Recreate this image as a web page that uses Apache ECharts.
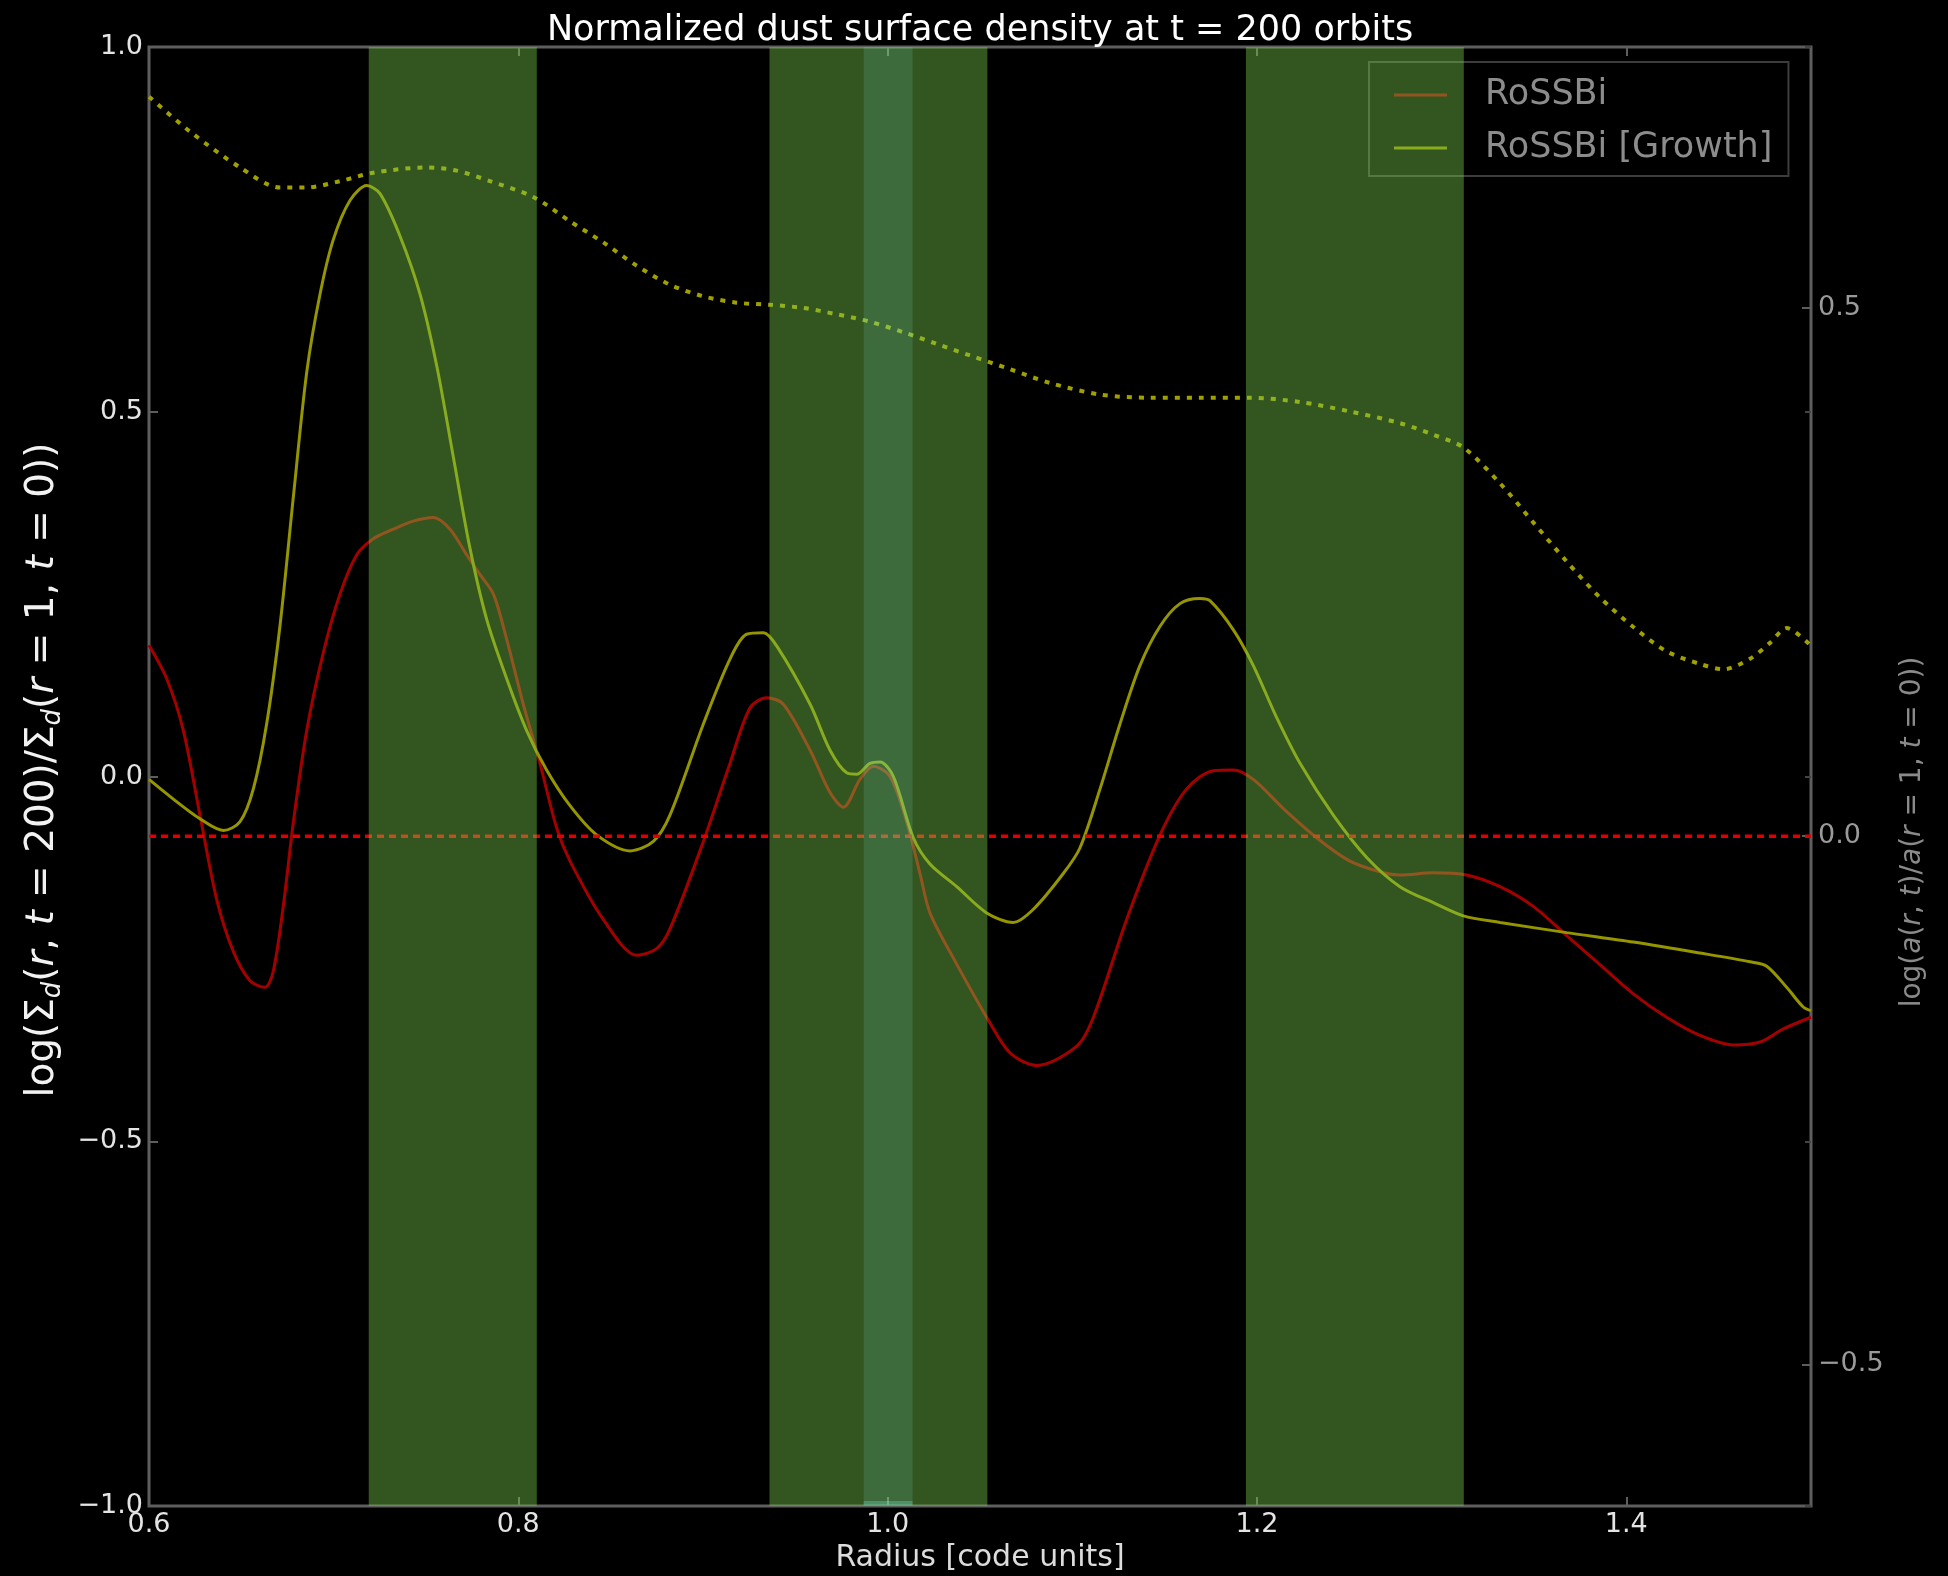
<!DOCTYPE html>
<html>
<head>
<meta charset="utf-8">
<title>Normalized dust surface density at t = 200 orbits</title>
<script src="https://cdn.jsdelivr.net/npm/echarts@6/dist/echarts.min.js"></script>
<style>
  html, body { margin: 0; padding: 0; background: #000; }
  #chart { width: 1948px; height: 1576px; }
</style>
</head>
<body>
<div id="chart"></div>
<script>
// Radius samples and log surface density, standard run
const rossbiR = [0.600, 0.6096, 0.6186, 0.6276, 0.6367, 0.6457, 0.6547, 0.6628, 0.6673, 0.6727, 0.6782, 0.6854, 0.6944, 0.7034, 0.7125, 0.7215, 0.7323, 0.7431, 0.7540, 0.7630, 0.7720, 0.7792, 0.7865, 0.7937, 0.8027, 0.8117, 0.8208, 0.8280, 0.8460, 0.8641, 0.8749, 0.8821, 0.9002, 0.9146, 0.9254, 0.9345, 0.9435, 0.9580, 0.9688, 0.9760, 0.9850, 0.9922, 1.0013, 1.0103, 1.0175, 1.0229, 1.0356, 1.0536, 1.0663, 1.0807, 1.1023, 1.1114, 1.1294, 1.1475, 1.1619, 1.1763, 1.1872, 1.1980, 1.2143, 1.2323, 1.2503, 1.2684, 1.2774, 1.2955, 1.3135, 1.3316, 1.3496, 1.3677, 1.3857, 1.4038, 1.4218, 1.4399, 1.4580, 1.4724, 1.4850, 1.5000];
const rossbiLogSigma = [0.180, 0.134, 0.063, -0.053, -0.169, -0.240, -0.280, -0.289, -0.267, -0.178, -0.062, 0.063, 0.170, 0.250, 0.304, 0.326, 0.339, 0.350, 0.355, 0.339, 0.304, 0.277, 0.250, 0.188, 0.099, 0.018, -0.071, -0.116, -0.196, -0.245, -0.236, -0.209, -0.089, 0.018, 0.094, 0.108, 0.099, 0.036, -0.022, -0.042, -0.004, 0.014, 0.000, -0.062, -0.133, -0.187, -0.249, -0.330, -0.379, -0.396, -0.370, -0.330, -0.196, -0.080, -0.017, 0.008, 0.009, -0.004, -0.044, -0.084, -0.116, -0.132, -0.135, -0.132, -0.135, -0.151, -0.178, -0.218, -0.258, -0.298, -0.330, -0.355, -0.368, -0.364, -0.346, -0.330];

// Radius samples and log surface density, run with grain growth
const growthR = [0.600, 0.6132, 0.6276, 0.6403, 0.6493, 0.6565, 0.6637, 0.6709, 0.6782, 0.6854, 0.6926, 0.6998, 0.7089, 0.7179, 0.7251, 0.7359, 0.7468, 0.7558, 0.7648, 0.7738, 0.7829, 0.7937, 0.8045, 0.8153, 0.8280, 0.8424, 0.8605, 0.8731, 0.8821, 0.9002, 0.9146, 0.9236, 0.9327, 0.9399, 0.9580, 0.9688, 0.9778, 0.9832, 0.9904, 0.9959, 1.0031, 1.0139, 1.0229, 1.0374, 1.0536, 1.0680, 1.0789, 1.0951, 1.1041, 1.1150, 1.1258, 1.1366, 1.1475, 1.1583, 1.1691, 1.1745, 1.1872, 1.1980, 1.2106, 1.2233, 1.2413, 1.2594, 1.2774, 1.2955, 1.3117, 1.3316, 1.3677, 1.4038, 1.4399, 1.4670, 1.4760, 1.4868, 1.4958, 1.5000];
const growthLogSigma = [-0.004, -0.031, -0.058, -0.074, -0.062, -0.017, 0.072, 0.206, 0.384, 0.554, 0.661, 0.736, 0.790, 0.810, 0.799, 0.741, 0.661, 0.563, 0.438, 0.313, 0.215, 0.134, 0.063, 0.009, -0.040, -0.080, -0.102, -0.089, -0.053, 0.072, 0.161, 0.195, 0.197, 0.179, 0.099, 0.036, 0.005, 0.003, 0.018, 0.020, 0.000, -0.084, -0.120, -0.151, -0.187, -0.200, -0.182, -0.133, -0.098, -0.017, 0.072, 0.152, 0.206, 0.237, 0.244, 0.241, 0.201, 0.152, 0.081, 0.018, -0.053, -0.111, -0.151, -0.173, -0.191, -0.200, -0.214, -0.227, -0.242, -0.254, -0.260, -0.289, -0.316, -0.321];

// Log grain size relative to a(r = 1, t = 0), growth run (right axis)
const grainR = [0.600, 0.6222, 0.6493, 0.6709, 0.6854, 0.7034, 0.7215, 0.7504, 0.7666, 0.7847, 0.8081, 0.8280, 0.8460, 0.8641, 0.8821, 0.9002, 0.9182, 0.9363, 0.9543, 0.9724, 0.9904, 1.0085, 1.0265, 1.0446, 1.0663, 1.0879, 1.1150, 1.1420, 1.1691, 1.1962, 1.2233, 1.2503, 1.2774, 1.2955, 1.3117, 1.3316, 1.3496, 1.3677, 1.3857, 1.4038, 1.4218, 1.4399, 1.4525, 1.4670, 1.4778, 1.4868, 1.4995];
const grainLogSize = [0.700, 0.667, 0.633, 0.614, 0.614, 0.620, 0.628, 0.633, 0.630, 0.620, 0.605, 0.582, 0.562, 0.540, 0.522, 0.511, 0.505, 0.503, 0.500, 0.494, 0.487, 0.477, 0.466, 0.455, 0.442, 0.429, 0.418, 0.415, 0.415, 0.415, 0.411, 0.402, 0.391, 0.380, 0.368, 0.334, 0.297, 0.260, 0.226, 0.198, 0.175, 0.163, 0.158, 0.168, 0.183, 0.197, 0.181];

// Initial grain size reference level (right axis)
const grainRefR = [0.6, 1.5];
const grainRefLevel = [0.0, 0.0];

// Radial extent of the vortex regions and of the central region
const vortexBands = [[0.719, 0.810], [0.936, 1.054], [1.194, 1.312]];
const coreBand = [[0.987, 1.0135]];

// Axis ranges and tick values
const radiusRange = [0.6, 1.5];
const radiusTicks = [0.6, 0.8, 1.0, 1.2, 1.4];
const sigmaRange = [-1.0, 1.0];
const sigmaTickStep = 0.5;
const sizeRange = [-0.634, 0.747];
const sizeTicks = [-0.5, 0.0, 0.5];

const zip = (xs, ys) => xs.map((x, i) => [x, ys[i]]);
const fmt = v => (v < 0 ? '\u2212' : '') + Math.abs(v).toFixed(1);

const FONT = 'DejaVu Sans';
const frameColor = '#5e5e5e';

const chart = echarts.init(document.getElementById('chart'), null, { renderer: 'canvas' });

// Full-height vertical span between two radii; the central one also gets a light lower edge
function bandItem(color, edgeColor) {
  return function (params, api) {
    const lo = api.coord([api.value(0), sigmaRange[0]]);
    const hi = api.coord([api.value(1), sigmaRange[1]]);
    const children = [{
      type: 'rect',
      shape: { x: lo[0], y: hi[1], width: hi[0] - lo[0], height: lo[1] - hi[1] },
      style: { fill: color }
    }];
    if (edgeColor) {
      children.push({
        type: 'rect',
        shape: { x: lo[0], y: lo[1] - 5, width: hi[0] - lo[0], height: 4 },
        style: { fill: edgeColor }
      });
    }
    return { type: 'group', children: children };
  };
}

const hiddenLine = { show: false, onZero: false };

const option = {
  backgroundColor: '#000000',
  animation: false,
  grid: {
    left: 149, right: 137, top: 47, bottom: 70,
    show: true,
    borderColor: frameColor,
    borderWidth: 3,
    backgroundColor: 'transparent',
    outerBoundsMode: 'none'
  },
  legend: {
    data: ['RoSSBi', 'RoSSBi [Growth]'],
    orient: 'vertical',
    left: 1369,
    top: 62,
    padding: [13, 16, 8, 25],
    icon: 'rect',
    itemWidth: 53,
    itemHeight: 3,
    itemGap: 13,
    backgroundColor: 'rgba(0,0,0,0)',
    borderColor: '#3c3c3c',
    borderWidth: 2,
    textStyle: {
      fontFamily: FONT, fontSize: 35, color: '#8c8c8c',
      lineHeight: 40, padding: [0, 0, 0, 33]
    }
  },
  xAxis: [
    {
      type: 'value',
      min: radiusRange[0], max: radiusRange[1],
      position: 'bottom',
      axisLine: hiddenLine,
      splitLine: { show: false },
      axisTick: { show: true, inside: true, length: 9, customValues: radiusTicks, lineStyle: { color: frameColor, width: 2 } },
      axisLabel: { customValues: radiusTicks, formatter: fmt, margin: 5, fontFamily: FONT, fontSize: 27, color: '#e4e4e4' }
    },
    {
      type: 'value',
      min: radiusRange[0], max: radiusRange[1],
      position: 'top',
      axisLine: hiddenLine,
      splitLine: { show: false },
      axisTick: { show: true, inside: true, length: 9, customValues: radiusTicks, lineStyle: { color: frameColor, width: 2 } },
      axisLabel: { show: false }
    }
  ],
  yAxis: [
    {
      type: 'value',
      min: sigmaRange[0], max: sigmaRange[1], interval: sigmaTickStep,
      position: 'left',
      axisLine: hiddenLine,
      splitLine: { show: false },
      axisTick: { show: true, inside: true, length: 9, lineStyle: { color: frameColor, width: 2 } },
      axisLabel: { formatter: fmt, margin: 6, fontFamily: FONT, fontSize: 27, color: '#e4e4e4' }
    },
    {
      type: 'value',
      min: sizeRange[0], max: sizeRange[1],
      position: 'right',
      axisLine: hiddenLine,
      splitLine: { show: false },
      axisTick: { show: true, inside: true, length: 9, customValues: sizeTicks, lineStyle: { color: frameColor, width: 2 } },
      axisLabel: { customValues: sizeTicks, formatter: fmt, margin: 7, fontFamily: FONT, fontSize: 27, color: '#9a9a9a' }
    },
    {
      type: 'value',
      min: sigmaRange[0], max: sigmaRange[1], interval: sigmaTickStep,
      position: 'right',
      axisLine: hiddenLine,
      splitLine: { show: false },
      axisTick: { show: true, inside: true, length: 6, lineStyle: { color: '#444444', width: 2 } },
      axisLabel: { show: false }
    }
  ],
  series: [
    {
      name: 'Initial grain size',
      type: 'line',
      yAxisIndex: 1,
      data: zip(grainRefR, grainRefLevel),
      symbol: 'none',
      z: 3,
      lineStyle: { color: '#e00000', width: 3.5, type: [7, 5] }
    },
    {
      name: 'RoSSBi',
      type: 'line',
      data: zip(rossbiR, rossbiLogSigma),
      symbol: 'none',
      smooth: 0.3,
      z: 2,
      color: '#a40000',
      lineStyle: { color: '#a40000', width: 3 }
    },
    {
      name: 'RoSSBi [Growth]',
      type: 'line',
      data: zip(growthR, growthLogSigma),
      symbol: 'none',
      smooth: 0.3,
      z: 2,
      color: '#959500',
      lineStyle: { color: '#959500', width: 3 }
    },
    {
      name: 'Grain size [Growth]',
      type: 'line',
      yAxisIndex: 1,
      data: zip(grainR, grainLogSize),
      symbol: 'none',
      smooth: 0.3,
      z: 2,
      lineStyle: { color: '#a0a000', width: 4, type: [5, 7] }
    },
    {
      name: 'Vortex regions',
      type: 'custom',
      data: vortexBands,
      encode: { x: [0, 1] },
      renderItem: bandItem('rgba(121,202,74,0.42)'),
      clip: true,
      z: 10,
      silent: true
    },
    {
      name: 'Central region',
      type: 'custom',
      data: coreBand,
      encode: { x: [0, 1] },
      renderItem: bandItem('rgba(130,255,255,0.13)', 'rgba(130,255,230,0.25)'),
      clip: true,
      z: 11,
      silent: true
    }
  ],
  graphic: [
    {
      type: 'text',
      x: 980, y: 31,
      style: {
        text: 'Normalized dust surface density at t = 200 orbits',
        fill: '#ffffff', fontFamily: FONT, fontSize: 35,
        align: 'center', verticalAlign: 'middle'
      }
    },
    {
      type: 'text',
      x: 980, y: 1558,
      style: {
        text: 'Radius [code units]',
        fill: '#dcdcdc', fontFamily: FONT, fontSize: 30,
        align: 'center', verticalAlign: 'middle'
      }
    },
    {
      type: 'text',
      x: 43, y: 770,
      rotation: Math.PI / 2,
      style: {
        text: '{n|log(Σ}{s|d}{n|(}{i|r}{n|, }{i|t}{n| = 200)/Σ}{s|d}{n|(}{i|r}{n| = 1, }{i|t}{n| = 0))}',
        fill: '#f2f2f2',
        align: 'center', verticalAlign: 'middle',
        rich: {
          n: { fontFamily: FONT, fontSize: 39, lineHeight: 46, fill: '#f2f2f2' },
          i: { fontFamily: FONT, fontSize: 39, lineHeight: 46, fontStyle: 'italic', fill: '#f2f2f2' },
          s: { fontFamily: FONT, fontSize: 26, lineHeight: 26, fontStyle: 'italic', verticalAlign: 'bottom', fill: '#f2f2f2' }
        }
      }
    },
    {
      type: 'text',
      x: 1913, y: 832,
      rotation: Math.PI / 2,
      style: {
        text: '{n|log(}{i|a}{n|(}{i|r}{n|, }{i|t}{n|)/}{i|a}{n|(}{i|r}{n| = 1, }{i|t}{n| = 0))}',
        fill: '#8a8a8a',
        align: 'center', verticalAlign: 'middle',
        rich: {
          n: { fontFamily: FONT, fontSize: 28, fill: '#8a8a8a' },
          i: { fontFamily: FONT, fontSize: 28, fontStyle: 'italic', fill: '#8a8a8a' }
        }
      }
    }
  ]
};

chart.setOption(option);
</script>
</body>
</html>
